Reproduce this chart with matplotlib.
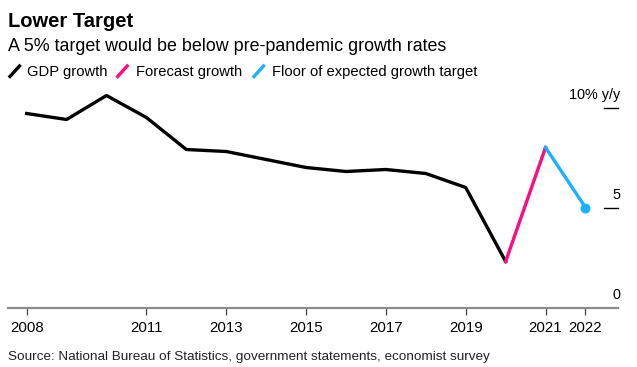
"""Lower Target: China GDP growth vs. the 5% target floor."""

import matplotlib

matplotlib.use("Agg")
import matplotlib.pyplot as plt  # noqa: E402
from matplotlib.lines import Line2D  # noqa: E402

plt.rcParams["font.family"] = ["Liberation Sans", "DejaVu Sans"]

# data (% y/y)
gdp_years = [2008, 2009, 2010, 2011, 2012, 2013, 2014, 2015, 2016, 2017, 2018, 2019, 2020]
gdp_growth = [9.7, 9.4, 10.6, 9.5, 7.9, 7.8, 7.4, 7.0, 6.8, 6.9, 6.7, 6.0, 2.3]
forecast_years = [2020, 2021]
forecast_growth = [2.3, 8.0]
floor_years = [2021, 2022]
floor_growth = [8.0, 5.0]
xtick_years = [2008, 2011, 2013, 2015, 2017, 2019, 2021, 2022]
ytick_vals = [0, 5, 10]
ytick_labels = ["0", "5", "10% y/y"]

BLACK = "#000000"
PINK = "#ff0a80"
BLUE = "#1ab2ff"
GREY = "#8c8c8c"

W, H = 637, 367
fig = plt.figure(figsize=(W / 100, H / 100), dpi=100)


def fy(py):
    # pixel row from top -> figure fraction
    return 1 - py / H


# axes box in pixels: left 8, right 618, bottom 307.5, top 87.5
ax = fig.add_axes([8 / W, fy(307.5), 610 / W, 220 / H])
ax.set_xlim(2008 - 18.7 / 40, 2022 + 32.6 / 40)
ax.set_ylim(0, 11)

ax.plot(gdp_years, gdp_growth, color=BLACK, lw=2.4, zorder=3)
ax.plot(forecast_years, forecast_growth, color=PINK, lw=2.4, zorder=3)
ax.plot(floor_years, floor_growth, color=BLUE, lw=2.4, zorder=3)
ax.plot(floor_years[-1], floor_growth[-1], "o", color=BLUE, ms=6.2, zorder=4)

for s in ["top", "right", "left"]:
    ax.spines[s].set_visible(False)
ax.spines["bottom"].set_color(GREY)
ax.spines["bottom"].set_linewidth(1.6)

ax.set_xticks(xtick_years)
ax.set_xticklabels([str(y) for y in xtick_years])
ax.tick_params(axis="x", length=5, width=0.9, color="#444444", pad=5, labelsize=10.8)
ax.set_yticks([])

# y labels sit on the right, above short tick lines
ytr = ax.get_yaxis_transform()
x_tick0, x_tick1 = (604 - 8) / 610, (618.3 - 8) / 610
for v, lab in zip(ytick_vals, ytick_labels):
    if v > 0:
        ax.plot([x_tick0, x_tick1], [v, v], color=BLACK, lw=1, transform=ytr, clip_on=False)
    ax.text((620 - 8) / 610, v + 0.43, lab, transform=ytr, ha="right", va="baseline",
            fontsize=10.4)

fig.text(8 / W, fy(27.3), "Lower Target", fontsize=14.5, fontweight="bold", va="baseline")
fig.text(8 / W, fy(50.7), "A 5% target would be below pre-pandemic growth rates",
         fontsize=12.9, va="baseline")

# legend with slash markers
legend_items = [("GDP growth", BLACK, 9, 27.3), ("Forecast growth", PINK, 116.7, 136),
                ("Floor of expected growth target", BLUE, 253, 271.7)]
for label, col, xs, xt in legend_items:
    fig.add_artist(Line2D([(xs + 1) / W, (xs + 10.5) / W], [fy(76.5), fy(66)],
                          color=col, lw=2.4, transform=fig.transFigure))
    fig.text(xt / W, fy(75.7), label, fontsize=10.6, va="baseline")

fig.text(8 / W, fy(360),
         "Source: National Bureau of Statistics, government statements, economist survey",
         fontsize=9.7, va="baseline", color="#222222")

fig.savefig("out.png", dpi=100)
